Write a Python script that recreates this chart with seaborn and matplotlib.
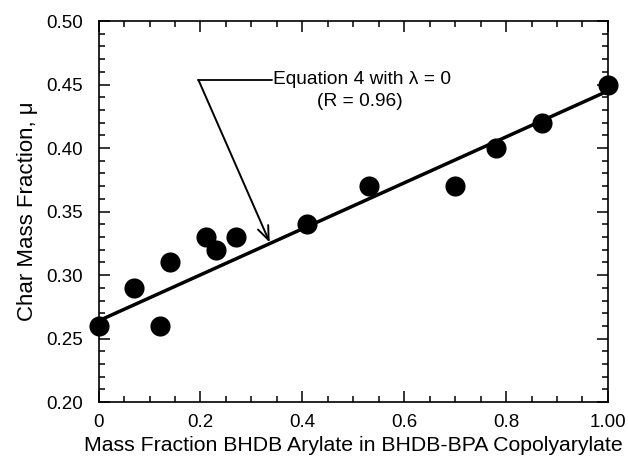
import matplotlib
matplotlib.use("Agg")
import matplotlib.pyplot as plt
import seaborn as sns
import pandas as pd
from matplotlib.ticker import MultipleLocator, FixedLocator

sns.set_style("white")
plt.rcParams['font.family'] = ['Liberation Sans', 'DejaVu Sans']
plt.rcParams['text.color'] = 'black'
plt.rcParams['axes.labelcolor'] = 'black'
plt.rcParams['xtick.color'] = 'black'
plt.rcParams['ytick.color'] = 'black'

# data
mass_fraction = [0.0, 0.07, 0.12, 0.14, 0.21, 0.23, 0.27, 0.41, 0.53, 0.70, 0.78, 0.87, 1.0]
char_fraction = [0.26, 0.29, 0.26, 0.31, 0.33, 0.32, 0.33, 0.34, 0.37, 0.37, 0.40, 0.42, 0.45]
fit_x = [0.0, 1.0]
fit_y = [0.264, 0.445]
x_ticks = [0, 0.2, 0.4, 0.6, 0.8, 1.0]
x_tick_labels = ["0", "0.2", "0.4", "0.6", "0.8", "1.00"]
y_ticks = [0.20, 0.25, 0.30, 0.35, 0.40, 0.45, 0.50]
y_tick_labels = ["0.20", "0.25", "0.30", "0.35", "0.40", "0.45", "0.50"]

df = pd.DataFrame({"x": mass_fraction, "y": char_fraction})
fit = pd.DataFrame({"x": fit_x, "y": fit_y})

fig = plt.figure(figsize=(6.28, 4.58), dpi=100)
ax = fig.add_axes([0.157, 0.122, 0.811, 0.832])

sns.lineplot(data=fit, x="x", y="y", ax=ax, color="black", linewidth=2.5)
sns.scatterplot(data=df, x="x", y="y", ax=ax, color="black", s=210,
                edgecolor="black", linewidth=0, zorder=3, clip_on=False)

ax.set_xlim(0, 1.0)
ax.set_ylim(0.20, 0.50)
ax.xaxis.set_major_locator(FixedLocator(x_ticks))
ax.set_xticklabels(x_tick_labels)
ax.yaxis.set_major_locator(FixedLocator(y_ticks))
ax.set_yticklabels(y_tick_labels)
ax.xaxis.set_minor_locator(MultipleLocator(0.05))
ax.yaxis.set_minor_locator(MultipleLocator(0.01))
ax.tick_params(which="both", direction="in", top=True, right=True,
               bottom=True, left=True, color="black", labelcolor="black", width=1.1)
ax.tick_params(which="major", length=8, labelsize=13.5)
ax.tick_params(axis="y", which="major", pad=11.5)
ax.tick_params(axis="x", which="major", pad=8.5)
ax.tick_params(which="minor", length=4)
for s in ax.spines.values():
    s.set_color("black")
    s.set_linewidth(1.2)

ax.set_xlabel("Mass Fraction BHDB Arylate in BHDB-BPA Copolyarylate", fontsize=15.3,
              labelpad=4, color="black")
ax.set_ylabel("Char Mass Fraction, μ", fontsize=16, labelpad=6, color="black")

# annotation
corner = (0.196, 0.4537)
tip = (0.336, 0.3257)
ax.plot([corner[0], 0.340], [corner[1], corner[1]], color="black", linewidth=1.3)
ax.annotate("", xy=tip, xytext=corner,
            arrowprops=dict(arrowstyle="->,head_length=1.0,head_width=0.4",
                            color="black", lw=1.4, shrinkA=0, shrinkB=0))
ax.text(0.342, corner[1], "Equation 4 with λ = 0", fontsize=13.8, ha="left",
        va="center", color="black")
ax.text(0.513, 0.437, "(R = 0.96)", fontsize=13.8, ha="center", va="center", color="black")

fig.savefig("out.png", dpi=100)
